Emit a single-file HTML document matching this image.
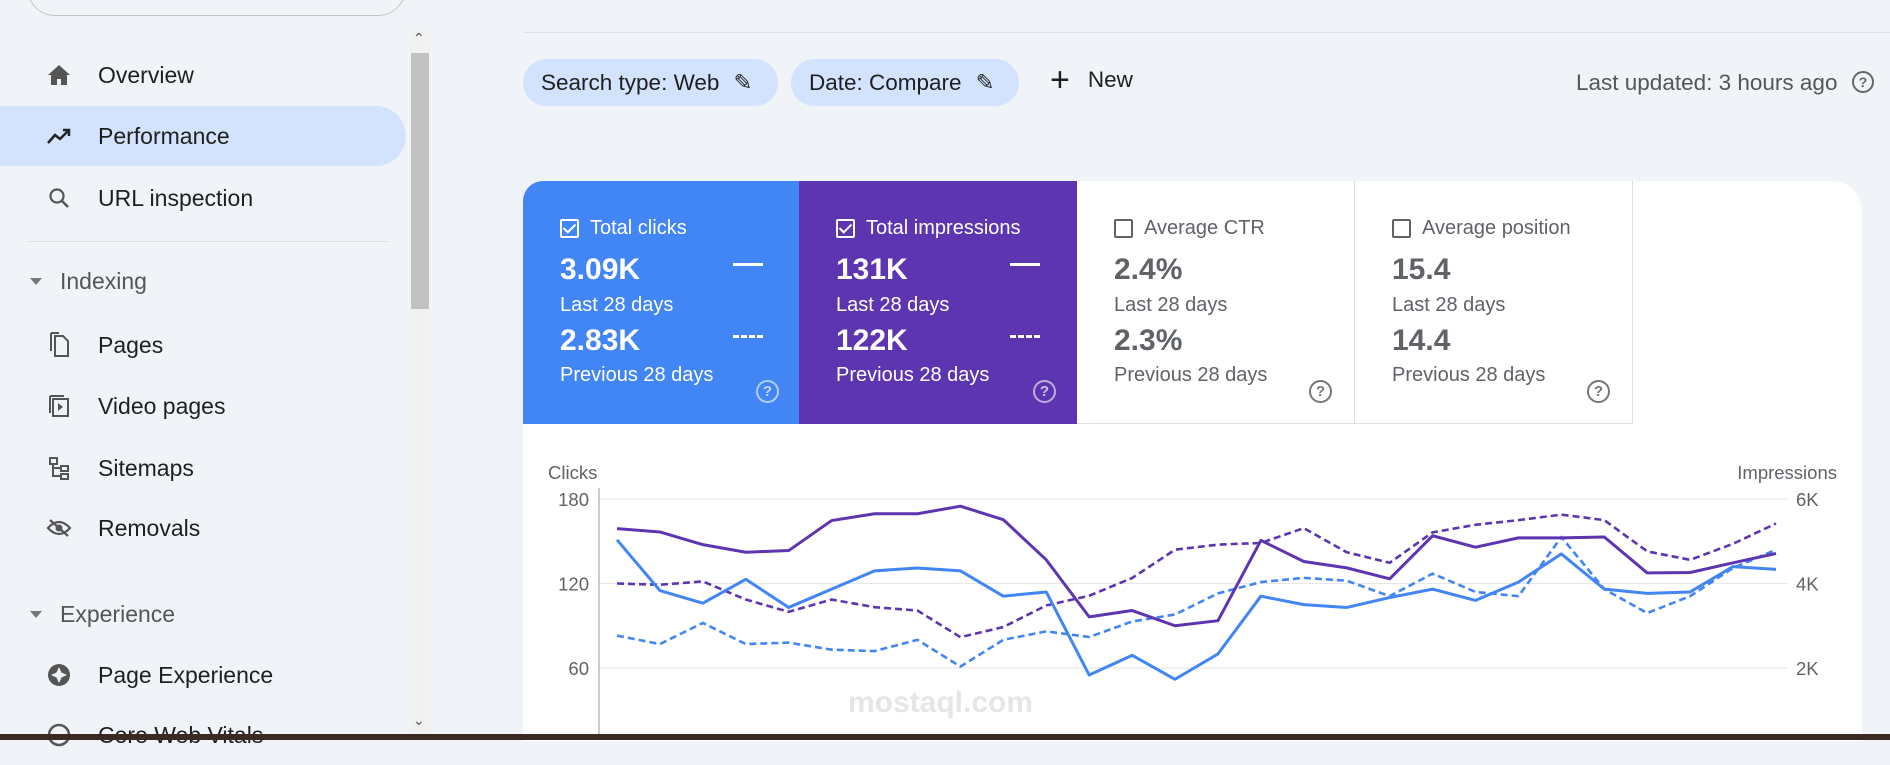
<!DOCTYPE html>
<html><head><meta charset="utf-8"><style>
*{box-sizing:border-box;margin:0;padding:0}
body{width:1890px;height:740px;overflow:hidden;background:#f0f4f9;font-family:"Liberation Sans",sans-serif;position:relative;color:#1f1f1f}
.abs{position:absolute}
.nav{position:absolute;left:0;width:406px;height:60px;display:flex;align-items:center;font-size:23px;color:#1f1f1f}
.nav .ic{width:30px;margin-left:44px;margin-right:24px;display:flex;justify-content:center;color:#444}
.sec{position:absolute;left:30px;font-size:23px;color:#555;display:flex;align-items:center}
.sec:before{content:"";border-left:6px solid transparent;border-right:6px solid transparent;border-top:7px solid #777;margin-right:18px}
.chip{position:absolute;top:59px;height:47px;border-radius:24px;background:#d3e3fd;display:flex;align-items:center;padding-left:18px;font-size:22.5px;color:#1f1f1f}
.tile{position:absolute;top:181px;height:243px;width:278px;padding-left:37px;color:#fff}
.tile .lab{position:absolute;top:36px;font-size:20px;display:flex;align-items:center}
.cb{width:19px;height:19px;border:2px solid #fff;border-radius:2px;margin-right:11px;display:inline-block;position:relative}
.cb.on:after{content:"";position:absolute;left:4px;top:0px;width:5px;height:10px;border:solid #fff;border-width:0 2px 2px 0;transform:rotate(45deg)}
.v{position:absolute;font-size:30px;font-weight:bold}
.s{position:absolute;font-size:20px}
.q{position:absolute;width:23px;height:23px;border:2px solid rgba(255,255,255,.6);border-radius:50%;font-size:15px;text-align:center;line-height:19px;color:rgba(255,255,255,.7);font-weight:bold}
.g .q{border-color:#777;color:#777}
.dash{position:absolute;width:30px;border-top:3px solid #fff}
.dash.d{border-top:3px dashed #fff}
</style></head><body>
<div class="abs" style="left:27px;top:-40px;width:379px;height:56px;border:1px solid #c4c7c5;border-radius:28px;background:#f0f4f9"></div>
<div class="abs" style="left:0;top:106px;width:406px;height:60px;background:#d3e3fd;border-radius:0 30px 30px 0"></div>
<div class="nav" style="top:45px"><span class="ic"><svg width="24" height="22"><path d="M12 1L1 11h3v10h6v-6h4v6h6V11h3z" fill="#555"/></svg></span>Overview</div>
<div class="nav" style="top:106px"><span class="ic"><svg width="26" height="18"><polyline points="2,16 9,8 14,12 23,3" fill="none" stroke="#222" stroke-width="2.5"/><polyline points="17,3 23,3 23,9" fill="none" stroke="#222" stroke-width="2.5"/></svg></span>Performance</div>
<div class="nav" style="top:168px"><span class="ic"><svg width="22" height="22"><circle cx="9" cy="9" r="6.5" fill="none" stroke="#555" stroke-width="2.2"/><line x1="14" y1="14" x2="20" y2="20" stroke="#555" stroke-width="2.5"/></svg></span>URL inspection</div>
<div class="abs" style="left:28px;top:241px;width:360px;border-top:1px solid #dadce0"></div>
<div class="sec" style="top:268px">Indexing</div>
<div class="nav" style="top:315px"><span class="ic"><svg width="20" height="26"><path d="M6 4h8l5 5v15H6z" fill="none" stroke="#555" stroke-width="2"/><path d="M2 1h8" stroke="#555" stroke-width="2"/><path d="M2 1v18" stroke="#555" stroke-width="2"/></svg></span>Pages</div>
<div class="nav" style="top:376px"><span class="ic"><svg width="22" height="24"><rect x="5" y="5" width="15" height="17" fill="none" stroke="#555" stroke-width="2"/><path d="M2 2v17M2 2h14" stroke="#555" stroke-width="2"/><path d="M10 9l5 4-5 4z" fill="#555"/></svg></span>Video pages</div>
<div class="nav" style="top:438px"><span class="ic"><svg width="22" height="24"><rect x="2" y="2" width="7" height="6" fill="none" stroke="#555" stroke-width="2"/><rect x="13" y="10" width="7" height="5" fill="none" stroke="#555" stroke-width="2"/><rect x="13" y="18" width="7" height="5" fill="none" stroke="#555" stroke-width="2"/><path d="M5 8v12h8M5 12h8" fill="none" stroke="#555" stroke-width="2"/></svg></span>Sitemaps</div>
<div class="nav" style="top:498px"><span class="ic"><svg width="26" height="20"><path d="M2 10q11-12 22 0q-11 12-22 0z" fill="none" stroke="#555" stroke-width="2.2"/><circle cx="13" cy="10" r="3.5" fill="#555"/><line x1="4" y1="2" x2="22" y2="18" stroke="#555" stroke-width="2.2"/></svg></span>Removals</div>
<div class="sec" style="top:601px">Experience</div>
<div class="nav" style="top:645px"><span class="ic"><svg width="24" height="24"><circle cx="12" cy="12" r="11" fill="#555"/><path d="M12 4l2.5 5.5 5.5 2.5-5.5 2.5-2.5 5.5-2.5-5.5-5.5-2.5 5.5-2.5z" fill="#f0f4f9"/></svg></span>Page Experience</div>
<div class="nav" style="top:705px"><span class="ic"><svg width="24" height="24"><circle cx="12" cy="12" r="10" fill="none" stroke="#555" stroke-width="2.5"/></svg></span>Core Web Vitals</div>
<div class="abs" style="left:410px;top:30px;width:20px;height:710px;background:#f1f1f1"></div>
<div class="abs" style="left:411px;top:53px;width:18px;height:256px;background:#c1c1c1"></div>
<div class="abs" style="left:413px;top:30px;font-size:14px;color:#555">&#8963;</div>
<div class="abs" style="left:413px;top:712px;font-size:14px;color:#555">&#8964;</div>

<div class="abs" style="left:523px;top:32px;width:1367px;border-top:1px solid #dde1e6"></div>
<div class="chip" style="left:523px;width:255px">Search type: Web<span style="margin-left:14px">&#9998;</span></div>
<div class="chip" style="left:791px;width:228px">Date: Compare<span style="margin-left:14px">&#9998;</span></div>
<div class="abs" style="left:1050px;top:66px;font-size:22.5px;display:flex;align-items:center"><span style="font-size:34px;font-weight:300;margin-right:18px;line-height:28px">+</span>New</div>
<div class="abs" style="left:1576px;top:70px;font-size:22.5px;color:#555">Last updated: 3 hours ago</div>
<div class="abs" style="left:1852px;top:71px;width:22px;height:22px;border:2px solid #666;border-radius:50%;font-size:14px;text-align:center;line-height:18px;color:#666;font-weight:bold">?</div>

<div class="abs" style="left:523px;top:181px;width:1339px;height:560px;background:#fff;border-radius:20px 30px 0 0"></div>
<div class="tile" style="left:523px;background:#4285f4;border-radius:20px 0 0 0;width:276px">
<div class="lab"><span class="cb on"></span>Total clicks</div>
<div class="v" style="top:72px">3.09K</div><div class="s" style="top:113px">Last 28 days</div>
<div class="v" style="top:143px">2.83K</div><div class="s" style="top:183px">Previous 28 days</div>
<div class="dash" style="left:210px;top:82px"></div><div class="dash d" style="left:210px;top:154px"></div>
<div class="q" style="left:233px;top:199px">?</div></div>
<div class="tile" style="left:799px;background:#5e35b1">
<div class="lab"><span class="cb on"></span>Total impressions</div>
<div class="v" style="top:72px">131K</div><div class="s" style="top:113px">Last 28 days</div>
<div class="v" style="top:143px">122K</div><div class="s" style="top:183px">Previous 28 days</div>
<div class="dash" style="left:211px;top:82px"></div><div class="dash d" style="left:211px;top:154px"></div>
<div class="q" style="left:234px;top:199px">?</div></div>
<div class="tile g" style="left:1077px;color:#5f6368;border-right:1px solid #e0e0e0;border-bottom:1px solid #e0e0e0">
<div class="lab"><span class="cb" style="border-color:#5f6368"></span>Average CTR</div>
<div class="v" style="top:72px">2.4%</div><div class="s" style="top:113px">Last 28 days</div>
<div class="v" style="top:143px">2.3%</div><div class="s" style="top:183px">Previous 28 days</div>
<div class="q" style="left:232px;top:199px">?</div></div>
<div class="tile g" style="left:1355px;color:#5f6368;border-right:1px solid #e0e0e0;border-bottom:1px solid #e0e0e0">
<div class="lab"><span class="cb" style="border-color:#5f6368"></span>Average position</div>
<div class="v" style="top:72px">15.4</div><div class="s" style="top:113px">Last 28 days</div>
<div class="v" style="top:143px">14.4</div><div class="s" style="top:183px">Previous 28 days</div>
<div class="q" style="left:232px;top:199px">?</div></div>

<svg id="chart" class="abs" style="left:0;top:0" width="1890" height="740"></svg>
<div class="abs" style="left:848px;top:686px;font-size:30px;color:#e6e6e6;font-weight:bold">mostaql.com</div>
<div class="abs" style="left:0;top:734px;width:1890px;height:6px;background:#3a2a22"></div>

<script>
const clicksCur=[151,115,106,123,103,116,129,131,129,111,114,55,69,52,70,111,105,103,110,116,108,121,141,116,113,114,132,130];
const clicksPrev=[83,77,92,77,78,73,72,80,61,80,86,82,93,98,113,121,124,122,111,127,114,111,153,116,99,111,131,144];
const imprCur=[5.30,5.22,4.92,4.74,4.78,5.49,5.65,5.65,5.83,5.51,4.56,3.21,3.36,3.00,3.12,5.02,4.52,4.37,4.11,5.13,4.86,5.08,5.08,5.10,4.25,4.26,4.49,4.71];
const imprPrev=[4.00,3.97,4.05,3.62,3.33,3.62,3.44,3.36,2.73,2.97,3.48,3.71,4.13,4.80,4.92,4.96,5.31,4.74,4.49,5.21,5.39,5.50,5.63,5.50,4.76,4.56,4.94,5.42];
const leftTicks=[60,120,180];
const rightTicks=["2K","4K","6K"];
const rightTickVals=[2,4,6];
const svg=document.getElementById('chart');
const NS='http://www.w3.org/2000/svg';
const X0=617,X1=1776,PL=599,PR=1788;
const xs=i=>X0+(X1-X0)*i/(clicksCur.length-1);
const yL=v=>499+(180-v)*84.5/60;
const yR=v=>499+(6-v)*84.5/2;
function mk(t,a){const e=document.createElementNS(NS,t);for(const k in a)e.setAttribute(k,a[k]);svg.appendChild(e);return e;}
leftTicks.forEach((t,i)=>{
 const g=mk('line',{x1:PL,x2:PR,y1:yL(t),y2:yL(t),stroke:'#e6e6e6','stroke-width':1});
 
 
 const l=mk('text',{x:589,y:yL(t)+7,'text-anchor':'end','font-size':18.5,fill:'#5f6368','font-family':'Liberation Sans'});
 l.textContent=t;
 
 
});
rightTickVals.forEach((t,i)=>{
 const l=mk('text',{x:1796,y:yR(t)+7,'font-size':18.5,fill:'#5f6368','font-family':'Liberation Sans'});
 l.textContent=rightTicks[i];
 
 
});
const ax=mk('line',{x1:PL,x2:PL,y1:488,y2:740,stroke:'#bbb','stroke-width':1.5});


const t1=mk('text',{x:548,y:479,'font-size':18.5,fill:'#5f6368','font-family':'Liberation Sans'});t1.textContent='Clicks';


const t2=mk('text',{x:1837,y:479,'text-anchor':'end','font-size':18.5,fill:'#5f6368','font-family':'Liberation Sans'});t2.textContent='Impressions';


function line(arr,yf,col,dash,name){
 const p=mk('polyline',{points:arr.map((v,i)=>xs(i)+','+yf(v)).join(' '),fill:'none',stroke:col,'stroke-width':dash?2.6:3,'stroke-linejoin':'round'});
 if(dash)p.setAttribute('stroke-dasharray','7 4');
 
 
}
line(imprPrev,yR,'#5e35b1',true,'impressions-previous-line');
line(clicksPrev,yL,'#4285f4',true,'clicks-previous-line');
line(imprCur,yR,'#5e35b1',false,'impressions-current-line');
line(clicksCur,yL,'#4285f4',false,'clicks-current-line');
</script>
</body></html>
